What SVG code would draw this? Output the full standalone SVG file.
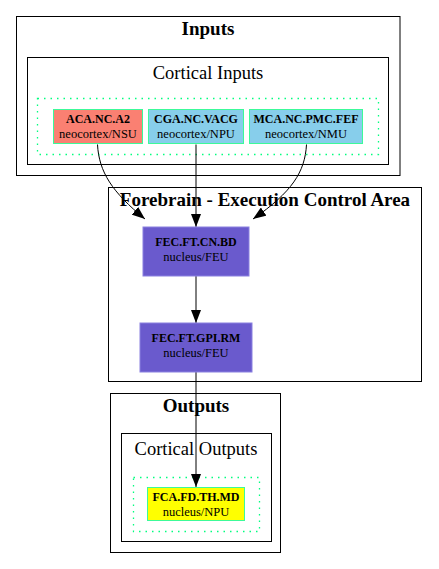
<svg xmlns="http://www.w3.org/2000/svg" width="439" height="569" viewBox="0 0 439 569">
<style>
text{font-family:"Liberation Serif","Times New Roman",serif;text-anchor:middle;fill:#000}
.ct{font-size:19px;font-weight:bold}
.cs{font-size:18.5px}
.nt{font-size:12px;font-weight:bold}
.ns{font-size:12.5px}
.cl{fill:none;stroke:#000;stroke-width:1}
.dot{fill:none;stroke:#00ff7f;stroke-width:1.3;stroke-dasharray:1.5,5}
.edge{fill:none;stroke:#000;stroke-width:1}
</style>
<defs>
<marker id="ah" markerWidth="13" markerHeight="10" refX="13" refY="5" orient="auto" markerUnits="userSpaceOnUse">
<path d="M0,0 L13,5 L0,10 Z" fill="#000"/>
</marker>
</defs>
<rect width="439" height="569" fill="#fff"/>
<g id="clusters">
<rect class="cl" x="16.5" y="16.5" width="383.5" height="159"/>
<text class="ct" x="208" y="35">Inputs</text>
<rect class="cl" x="27.5" y="57.5" width="361" height="107"/>
<text class="cs" x="208" y="79">Cortical Inputs</text>
<rect class="dot" x="37.5" y="98.5" width="341" height="56"/>
<rect class="cl" x="108.5" y="187.5" width="313" height="194"/>
<text class="ct" x="265" y="206">Forebrain - Execution Control Area</text>
<rect class="cl" x="110.5" y="393.5" width="170" height="159"/>
<text class="ct" x="196" y="412">Outputs</text>
<rect class="cl" x="121.5" y="433.5" width="150" height="108"/>
<text class="cs" x="196" y="455">Cortical Outputs</text>
<rect class="dot" x="133.5" y="477.5" width="126" height="54"/>
</g>
<g id="connectors">
<path class="edge" d="M97.5,144.5 C99,172 112,192 145,219" marker-end="url(#ah)"/>
<path class="edge" d="M196,144.5 L196,227" marker-end="url(#ah)"/>
<path class="edge" d="M306.5,144.5 C305,172 292,192 253,219" marker-end="url(#ah)"/>
<path class="edge" d="M196,276 L196,323" marker-end="url(#ah)"/>
<path class="edge" d="M196,372 L196,487" marker-end="url(#ah)"/>
</g>
<g id="node-aca">
<rect x="53.5" y="109.5" width="89" height="34" fill="#fa8072" stroke="#3cfa9a"/>
<text class="nt" x="98" y="123">ACA.NC.A2</text>
<text class="ns" x="98" y="138">neocortex/NSU</text>
</g>
<g id="node-cga">
<rect x="148.5" y="109.5" width="95" height="34" fill="#87ceeb" stroke="#3cfa9a"/>
<text class="nt" x="196" y="123">CGA.NC.VACG</text>
<text class="ns" x="196" y="138">neocortex/NPU</text>
</g>
<g id="node-mca">
<rect x="249.5" y="109.5" width="113" height="34" fill="#87ceeb" stroke="#3cfa9a"/>
<text class="nt" x="306" y="123">MCA.NC.PMC.FEF</text>
<text class="ns" x="306" y="138">neocortex/NMU</text>
</g>
<g id="node-cnbd">
<rect x="143" y="227" width="106" height="49" fill="#6a5acd" stroke="#8a80e0"/>
<text class="nt" x="196" y="246">FEC.FT.CN.BD</text>
<text class="ns" x="196" y="261">nucleus/FEU</text>
</g>
<g id="node-gpirm">
<rect x="140" y="323" width="112" height="49" fill="#6a5acd" stroke="#8a80e0"/>
<text class="nt" x="196" y="342">FEC.FT.GPI.RM</text>
<text class="ns" x="196" y="357">nucleus/FEU</text>
</g>
<g id="node-fca">
<rect x="147.5" y="487.5" width="97" height="33" fill="#ffff00" stroke="#3cfa9a"/>
<text class="nt" x="196" y="501">FCA.FD.TH.MD</text>
<text class="ns" x="196" y="516">nucleus/NPU</text>
</g>
</svg>
